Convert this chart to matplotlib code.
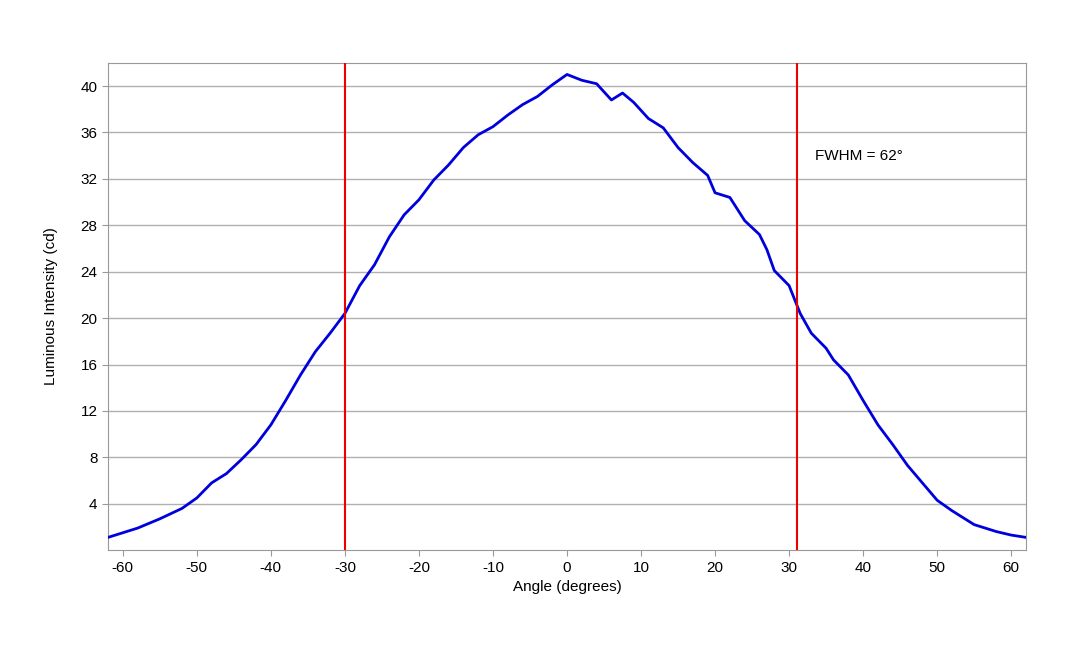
import matplotlib
matplotlib.use("Agg")
import matplotlib.pyplot as plt

plt.rcParams["font.family"] = ["Liberation Sans", "DejaVu Sans"]
plt.rcParams["axes.unicode_minus"] = False

angle = [-62, -60, -58, -55, -52, -50, -48, -46, -44, -42, -40, -38, -36, -34, -32,
         -30, -28, -26, -24, -22, -20, -18, -16, -14, -12, -10, -8, -6, -4, -2, 0,
         2, 4, 6, 7.5, 9, 11, 13, 15, 17, 19, 20, 22, 24, 26, 27, 28, 30, 31.5, 33,
         35, 36, 38, 40, 42, 44, 46, 48, 50, 52, 55, 58, 60, 62]
intensity = [1.1, 1.5, 1.9, 2.7, 3.6, 4.5, 5.8, 6.6, 7.8, 9.1, 10.8, 12.9, 15.1, 17.1, 18.7,
             20.4, 22.8, 24.6, 27.0, 28.9, 30.2, 31.9, 33.2, 34.7, 35.8, 36.5, 37.5, 38.4, 39.1, 40.1, 41.0,
             40.5, 40.2, 38.8, 39.4, 38.6, 37.2, 36.4, 34.7, 33.4, 32.3, 30.8, 30.4, 28.4, 27.2, 25.9,
             24.1, 22.8, 20.4, 18.7, 17.4, 16.4, 15.1, 12.9, 10.8, 9.1, 7.3, 5.8, 4.3, 3.4, 2.2, 1.6, 1.3, 1.1]
half_max_angles = [-30, 31]
fwhm_label = "FWHM = 62°"

fig, ax = plt.subplots(figsize=(10.8, 6.48), dpi=100)
fig.subplots_adjust(left=0.1, right=0.95, top=0.903, bottom=0.151)

ax.plot(angle, intensity, color="#0000dd", lw=2, zorder=3)
for a in half_max_angles:
    ax.axvline(a, color="#ee0000", lw=1.5, zorder=4)
ax.text(33.5, 33.6, fwhm_label, fontsize=11)

ax.set_xlim(-62, 62)
ax.set_ylim(0, 42)
ax.set_xticks(range(-60, 61, 10))
ax.set_yticks(range(4, 41, 4))
ax.grid(axis="y", color="#b0b0b0", lw=1)
ax.set_axisbelow(True)
for s in ax.spines.values():
    s.set_color("#999999")
ax.tick_params(labelsize=11, length=4, color="#999999")
ax.set_xlabel("Angle (degrees)", fontsize=11)
ax.set_ylabel("Luminous Intensity (cd)", fontsize=11, labelpad=16)

fig.savefig("out.png")
